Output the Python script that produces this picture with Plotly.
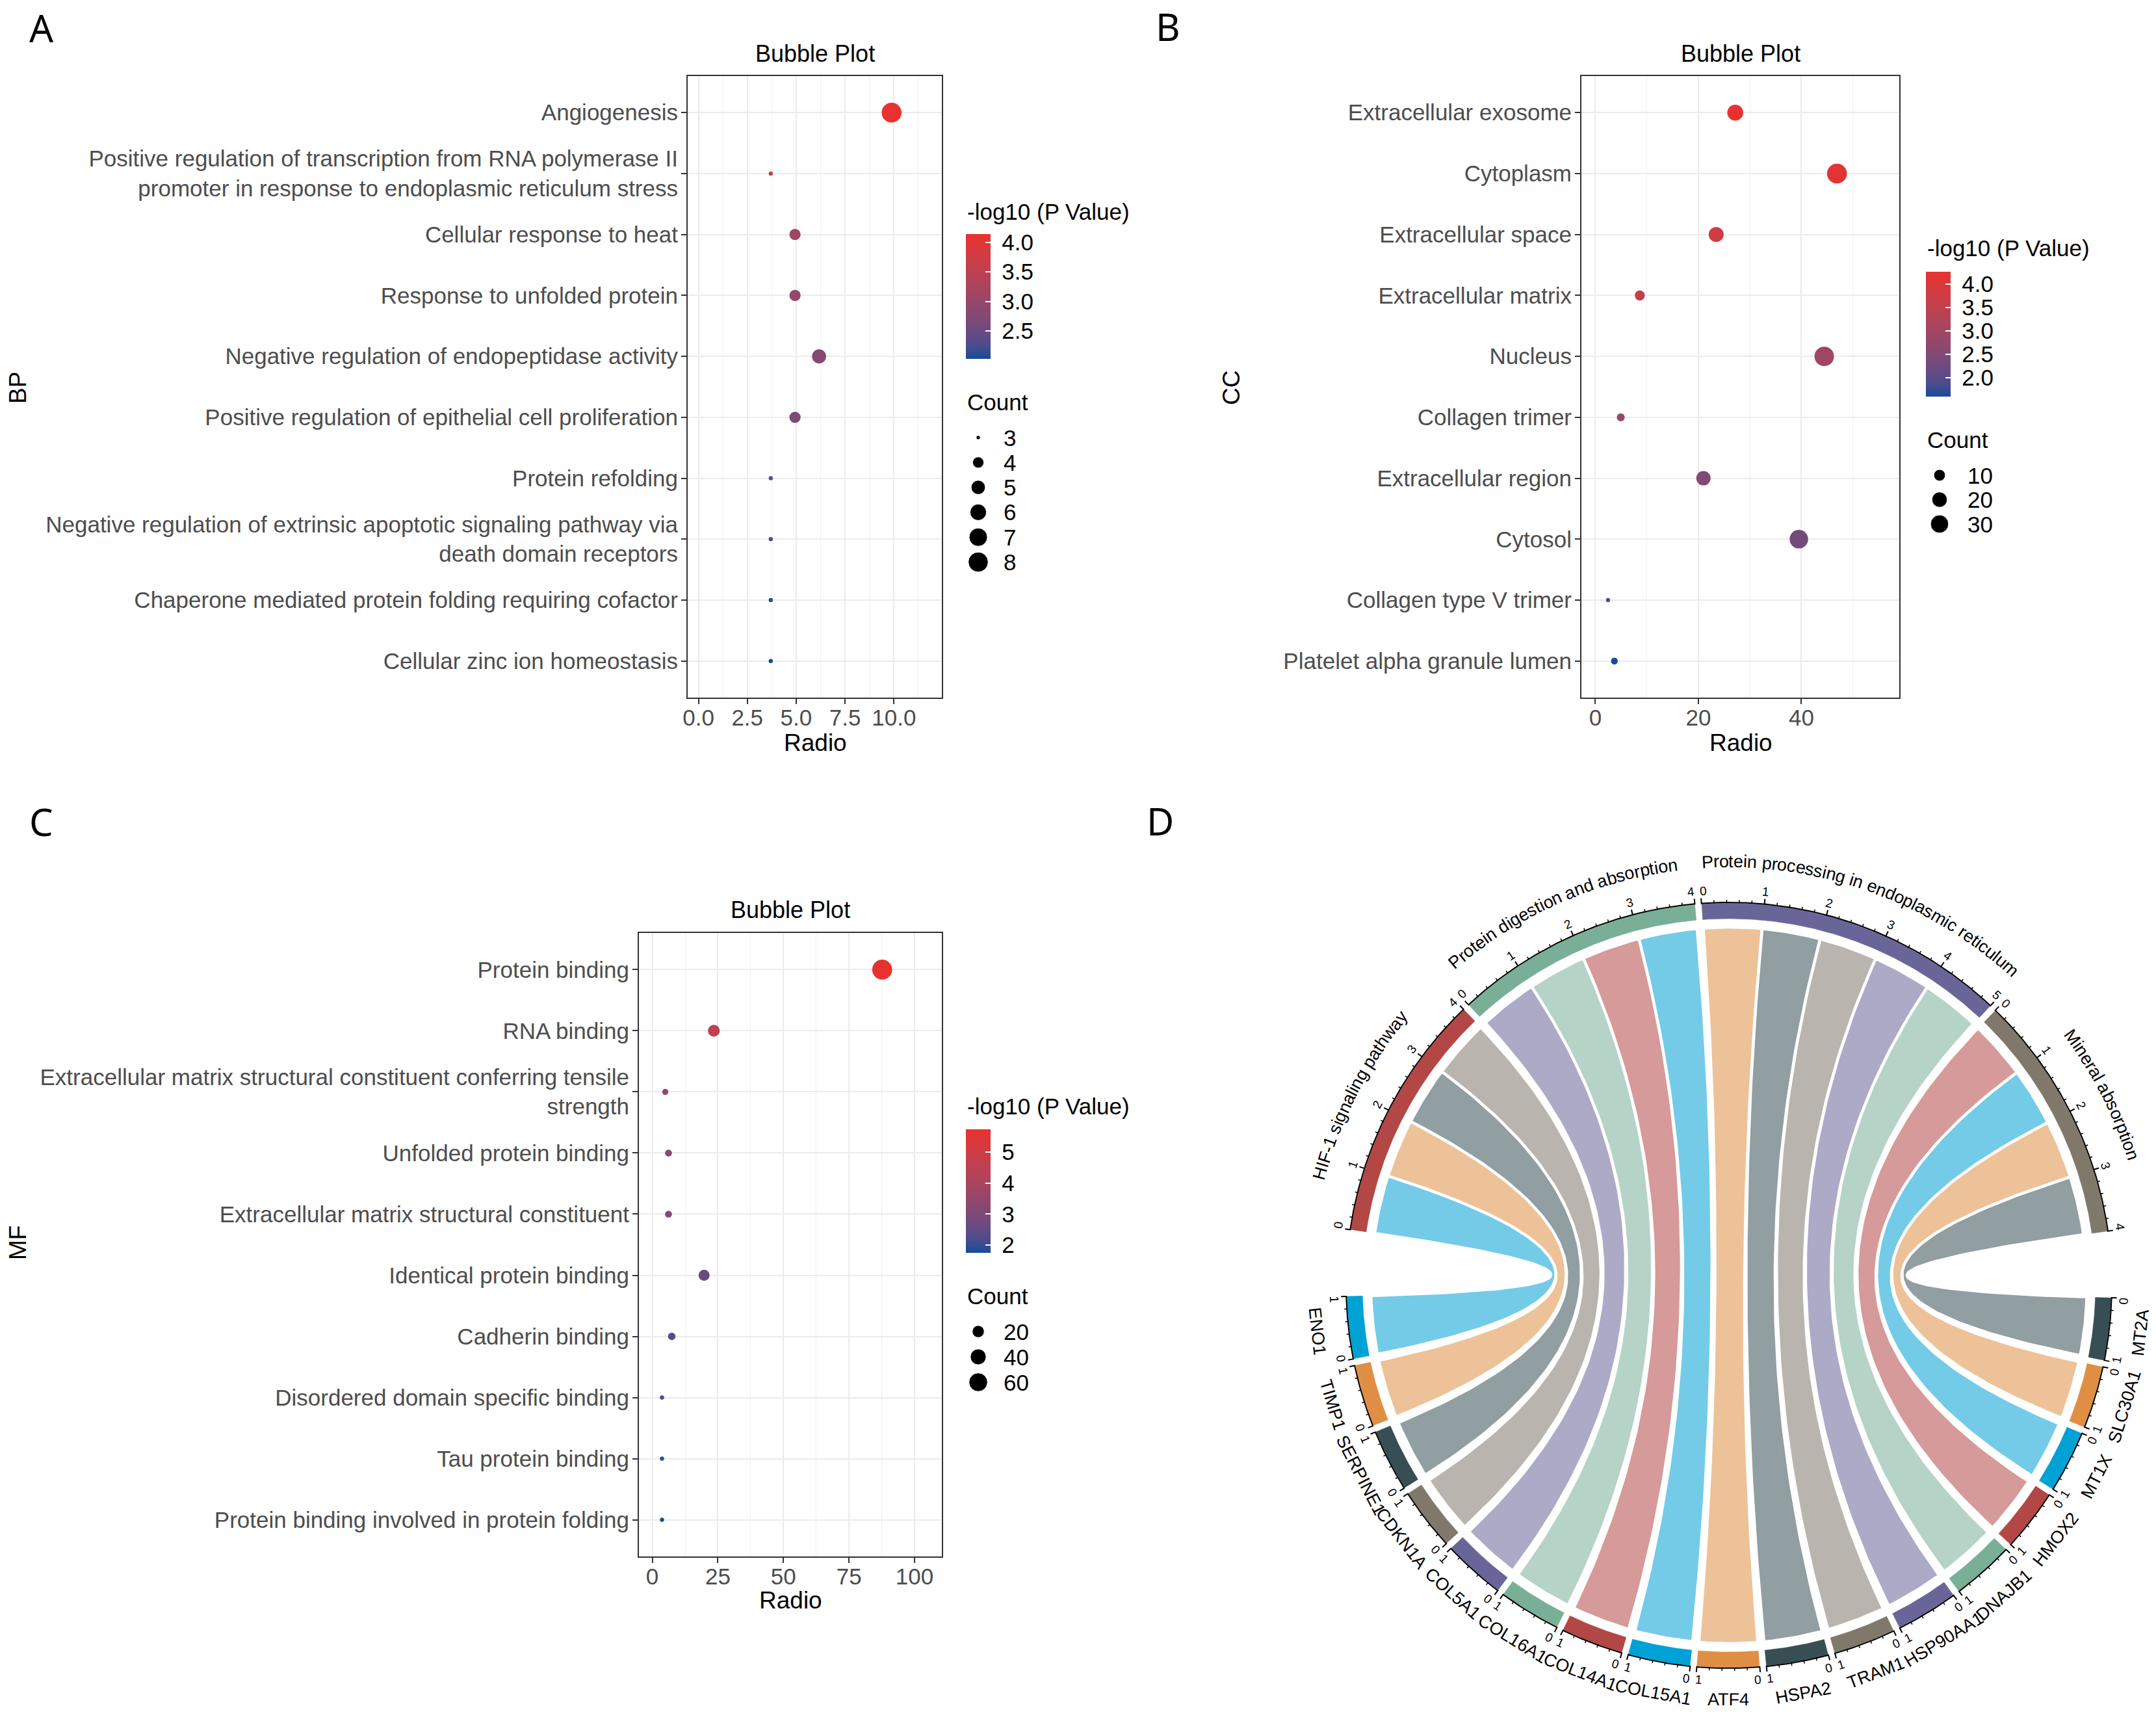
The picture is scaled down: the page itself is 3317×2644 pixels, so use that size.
import math
import plotly.graph_objects as go

W, H = 3317, 2644

# ---------------- data ----------------
bp_terms = ["Angiogenesis",
            "Positive regulation of transcription from RNA polymerase II<br>promoter in response to endoplasmic reticulum stress",
            "Cellular response to heat",
            "Response to unfolded protein",
            "Negative regulation of endopeptidase activity",
            "Positive regulation of epithelial cell proliferation",
            "Protein refolding",
            "Negative regulation of extrinsic apoptotic signaling pathway via<br>death domain receptors",
            "Chaperone mediated protein folding requiring cofactor",
            "Cellular zinc ion homeostasis"]
bp_radio = [9.88, 3.70, 4.94, 4.94, 6.17, 4.94, 3.70, 3.70, 3.70, 3.70]
bp_count = [8, 3, 4, 4, 5, 4, 3, 3, 3, 3]
bp_logp = [4.14, 3.40, 3.10, 3.00, 2.80, 2.70, 2.40, 2.30, 2.10, 2.03]

cc_terms = ["Extracellular exosome", "Cytoplasm", "Extracellular space", "Extracellular matrix",
            "Nucleus", "Collagen trimer", "Extracellular region", "Cytosol",
            "Collagen type V trimer", "Platelet alpha granule lumen"]
cc_radio = [27.16, 46.91, 23.46, 8.64, 44.44, 4.94, 20.99, 39.51, 2.47, 3.70]
cc_count = [22, 38, 19, 7, 36, 4, 17, 32, 2, 3]
cc_logp = [4.26, 4.15, 3.80, 3.60, 3.00, 2.80, 2.50, 2.30, 2.00, 1.59]

mf_terms = ["Protein binding", "RNA binding",
            "Extracellular matrix structural constituent conferring tensile<br>strength",
            "Unfolded protein binding", "Extracellular matrix structural constituent",
            "Identical protein binding", "Cadherin binding", "Disordered domain specific binding",
            "Tau protein binding", "Protein binding involved in protein folding"]
mf_radio = [87.65, 23.46, 4.94, 6.17, 6.17, 19.75, 7.41, 3.70, 3.70, 3.70]
mf_count = [71, 19, 4, 5, 5, 16, 6, 3, 3, 3]
mf_logp = [5.73, 4.60, 3.35, 3.20, 3.10, 2.60, 2.30, 2.10, 2.00, 1.75]

bp_xticks = [0, 2.5, 5, 7.5, 10]
cc_xticks = [0, 20, 40]
mf_xticks = [0, 25, 50, 75, 100]
bp_cbar_ticks = [2.5, 3.0, 3.5, 4.0]
cc_cbar_ticks = [2.0, 2.5, 3.0, 3.5, 4.0]
mf_cbar_ticks = [2, 3, 4, 5]
bp_size_legend = [3, 4, 5, 6, 7, 8]
cc_size_legend = [10, 20, 30]
mf_size_legend = [20, 40, 60]

pathways = ["HIF-1 signaling pathway", "Protein digestion and absorption",
            "Protein processing in endoplasmic reticulum", "Mineral absorption"]
pathway_genes = [["ENO1", "TIMP1", "SERPINE1", "CDKN1A"],
                 ["COL5A1", "COL16A1", "COL14A1", "COL15A1"],
                 ["ATF4", "HSPA2", "TRAM1", "HSP90AA1", "DNAJB1"],
                 ["HMOX2", "MT1X", "SLC30A1", "MT2A"]]

# ---------------- styles ----------------
FONT = "Liberation Sans, Arial, sans-serif"
jama = ["#374E55", "#DF8F44", "#00A1D5", "#B24745", "#79AF97", "#6A6599", "#80796B"]
LOW, HIGH = "#164C97", "#E8322F"
NB = "\u00a0"  # padding between colorbar and its labels


def _lin(c):
    c = c / 255.0
    return c / 12.92 if c <= 0.04045 else ((c + 0.055) / 1.055) ** 2.4


def _delin(c):
    v = 12.92 * c if c <= 0.0031308 else 1.055 * c ** (1 / 2.4) - 0.055
    return int(max(0, min(255, round(v * 255))))


def rgb2lab(h):
    r, g, b = [_lin(int(h[i:i + 2], 16)) for i in (1, 3, 5)]
    X = 0.4124 * r + 0.3576 * g + 0.1805 * b
    Y = 0.2126 * r + 0.7152 * g + 0.0722 * b
    Z = 0.0193 * r + 0.1192 * g + 0.9505 * b
    f = lambda t: t ** (1 / 3) if t > 0.008856 else 7.787 * t + 16 / 116
    fx, fy, fz = f(X / 0.95047), f(Y), f(Z / 1.08883)
    return 116 * fy - 16, 500 * (fx - fy), 200 * (fy - fz)


def lab2rgb(L, a, b):
    fy = (L + 16) / 116
    fx = fy + a / 500
    fz = fy - b / 200
    finv = lambda t: t ** 3 if t ** 3 > 0.008856 else (t - 16 / 116) / 7.787
    X, Y, Z = 0.95047 * finv(fx), finv(fy), 1.08883 * finv(fz)
    r = 3.2406 * X - 1.5372 * Y - 0.4986 * Z
    g = -0.9689 * X + 1.8758 * Y + 0.0415 * Z
    bb = 0.0557 * X - 0.2040 * Y + 1.0570 * Z
    return "#%02x%02x%02x" % (_delin(r), _delin(g), _delin(bb))


l0, l1 = rgb2lab(LOW), rgb2lab(HIGH)
colorscale = []
for k in range(11):
    t = k / 10
    colorscale.append([t, lab2rgb(*[l0[i] + (l1[i] - l0[i]) * t for i in range(3)])])


def dot_diam(c, cmin, cmax):
    s = 1 + 5 * math.sqrt((c - cmin) / (cmax - cmin))
    return 1.7 * (2.845 * s + 0.945)


def hexa(h, a):
    return "rgba(%d,%d,%d,%.2f)" % (int(h[1:3], 16), int(h[3:5], 16), int(h[5:7], 16), a)


fig = go.Figure()
annotations = []


def px_ann(x, y, text, size, color="black", xanchor="center", yanchor="middle", angle=0, family=FONT):
    annotations.append(dict(x=x, y=y, xref="x4", yref="y4", text=text, showarrow=False,
                            xanchor=xanchor, yanchor=yanchor, textangle=angle,
                            font=dict(size=size, color=color, family=family)))


# ---------------- bubble panels ----------------
panels = [
    dict(ax="", terms=bp_terms, radio=bp_radio, count=bp_count, logp=bp_logp,
         frame=(1058, 1449, 117, 1073), xr=[-0.55, 12.45], xt=bp_xticks, fmt=".1f", minor=1.25,
         cbt=bp_cbar_ticks, cbfmt=".1f", cb=(1486, 360, 192), title=(1254, 82), xtitle=(1254, 1142),
         ytitle=(27, 597, "BP"), legtitle=(1486, 325), cnt=(1486, 618), sz=bp_size_legend,
         szpos=(1505, 1542, 673, 38.3)),
    dict(ax="2", terms=cc_terms, radio=cc_radio, count=cc_count, logp=cc_logp,
         frame=(2433, 2922, 117, 1073), xr=[-2.7, 59.0], xt=cc_xticks, fmt="d", minor=10,
         cbt=cc_cbar_ticks, cbfmt=".1f", cb=(2963, 418, 192), title=(2678, 82), xtitle=(2678, 1142),
         ytitle=(1894, 597, "CC"), legtitle=(2963, 381), cnt=(2963, 676), sz=cc_size_legend,
         szpos=(2984, 3025, 731, 37.5)),
    dict(ax="3", terms=mf_terms, radio=mf_radio, count=mf_count, logp=mf_logp,
         frame=(983, 1449, 1435, 2394), xr=[-5.1, 110.4], xt=mf_xticks, fmt="d", minor=12.5,
         cbt=mf_cbar_ticks, cbfmt="d", cb=(1486, 1737, 190), title=(1216, 1399), xtitle=(1216, 2461),
         ytitle=(27, 1912, "MF"), legtitle=(1486, 1701), cnt=(1486, 1993), sz=mf_size_legend,
         szpos=(1505, 1542, 2048, 39)),
]

layout_axes = {}
for i, p in enumerate(panels):
    ax = p["ax"]
    cmin_c, cmax_c = min(p["count"]), max(p["count"])
    sizes = [dot_diam(c, cmin_c, cmax_c) for c in p["count"]]
    ca = "coloraxis" + ax
    fig.add_trace(go.Scatter(x=p["radio"], y=list(range(len(p["terms"]))), mode="markers",
                             marker=dict(size=sizes, color=p["logp"], coloraxis=ca, opacity=1,
                                         line=dict(width=0)),
                             xaxis="x" + ax, yaxis="y" + ax, showlegend=False, hoverinfo="skip"))
    x0, x1, y0, y1 = p["frame"]
    layout_axes["xaxis" + ax] = dict(
        domain=[x0 / W, x1 / W], anchor="y" + ax, range=p["xr"], tickmode="array",
        tickvals=p["xt"], ticktext=[format(v, ".1f") if p["fmt"] == ".1f" else str(int(v)) for v in p["xt"]],
        showgrid=True, gridcolor="#EBEBEB", gridwidth=2, zeroline=False,
        minor=dict(dtick=p["minor"], tick0=0, showgrid=True, gridcolor="#F0F0F0", gridwidth=1),
        showline=True, mirror=True, linecolor="#333333", linewidth=2,
        ticks="outside", ticklen=8, tickwidth=2, tickcolor="#333333", ticklabelstandoff=-9,
        tickfont=dict(size=35, color="#4D4D4D", family=FONT), automargin=False, fixedrange=True)
    layout_axes["yaxis" + ax] = dict(
        domain=[1 - y1 / H, 1 - y0 / H], anchor="x" + ax, range=[len(p["terms"]) - 0.4, -0.6],
        tickmode="array", tickvals=list(range(len(p["terms"]))), ticktext=p["terms"],
        showgrid=True, gridcolor="#EBEBEB", gridwidth=2, zeroline=False,
        showline=True, mirror=True, linecolor="#333333", linewidth=2,
        ticks="outside", ticklen=8, tickwidth=2, tickcolor="#333333", ticklabelstandoff=-2,
        tickfont=dict(size=35, color="#4D4D4D", family=FONT), automargin=False, fixedrange=True)
    cbx, cby, cblen = p["cb"]
    layout_axes[ca] = dict(
        colorscale=colorscale, cmin=min(p["logp"]), cmax=max(p["logp"]),
        colorbar=dict(x=cbx / W, xanchor="left", y=1 - cby / H, yanchor="top", len=cblen, lenmode="pixels",
                      thickness=38, thicknessmode="pixels", xpad=0, ypad=0, outlinewidth=0,
                      tickmode="array", tickvals=p["cbt"],
                      ticktext=[NB + (format(v, ".1f") if p["cbfmt"] == ".1f" else str(int(v))) for v in p["cbt"]],
                      ticks="inside", ticklen=8, tickwidth=2, tickcolor="white",
                      tickfont=dict(size=35, color="black", family=FONT)))
    # texts
    px_ann(p["title"][0], p["title"][1], "Bubble Plot", 36)
    px_ann(p["xtitle"][0], p["xtitle"][1], "Radio", 37)
    px_ann(p["ytitle"][0], p["ytitle"][1], p["ytitle"][2], 37, angle=-90)
    px_ann(p["legtitle"][0], p["legtitle"][1], "-log10 (P Value)", 35, xanchor="left")
    px_ann(p["cnt"][0], p["cnt"][1], "Count", 35, xanchor="left")
    dx, lx, ly0, dy = p["szpos"]
    ys = [ly0 + k * dy for k in range(len(p["sz"]))]
    fig.add_trace(go.Scatter(x=[dx] * len(p["sz"]), y=ys, mode="markers",
                             marker=dict(size=[dot_diam(c, cmin_c, cmax_c) for c in p["sz"]], color="black",
                                         opacity=1),
                             xaxis="x4", yaxis="y4", showlegend=False, hoverinfo="skip"))
    for c, yy in zip(p["sz"], ys):
        px_ann(lx, yy, str(c), 35, xanchor="left")

# panel letters
for lab, x, y in [("A", 63, 42), ("B", 1797, 40), ("C", 63, 1263), ("D", 1785, 1262)]:
    px_ann(x, y, lab, 58, family="Noto Sans, Open Sans, sans-serif")

# ---------------- chord diagram ----------------
cx, cy = 2660, 1977
R_OUT, R_IN, R_LINK = 588, 564, 551
BIG, SMALL = 10.0, 1.0
genes_cw = list(reversed([gname for lst in pathway_genes for gname in lst]))
sector_names = genes_cw + pathways
sector_vals = [1] * len(genes_cw) + [len(l) for l in pathway_genes]
unit = (360 - 2 * BIG - (len(sector_names) - 2) * SMALL) / sum(sector_vals)
starts, ends, colors = {}, {}, {}
theta = -1.85
for i, (n, v) in enumerate(zip(sector_names, sector_vals)):
    starts[n] = theta
    ends[n] = theta - v * unit
    colors[n] = jama[i % 7]
    theta = ends[n] - (BIG if i in (len(genes_cw) - 1, len(sector_names) - 1) else SMALL)


def pt(r, a):
    return cx + r * math.cos(math.radians(a)), cy - r * math.sin(math.radians(a))


def arc(r, a0, a1):
    n = max(8, int(abs(a1 - a0) * 3))
    return [pt(r, a0 + (a1 - a0) * k / n) for k in range(n + 1)]


def bez(p0, p2, n=90):
    out = []
    for k in range(n + 1):
        t = k / n
        out.append(((1 - t) ** 2 * p0[0] + 2 * t * (1 - t) * cx + t * t * p2[0],
                    (1 - t) ** 2 * p0[1] + 2 * t * (1 - t) * cy + t * t * p2[1]))
    return out


# links
for pname, glist in zip(pathways, pathway_genes):
    for j, gname in enumerate(glist):
        a_s = starts[pname] - j * unit
        a_e = a_s - unit
        b_s, b_e = starts[gname], ends[gname]
        pts = (arc(R_LINK, a_s, a_e) + bez(pt(R_LINK, a_e), pt(R_LINK, b_s)) +
               arc(R_LINK, b_s, b_e) + bez(pt(R_LINK, b_e), pt(R_LINK, a_s)))
        fig.add_trace(go.Scatter(x=[q[0] for q in pts], y=[q[1] for q in pts], mode="lines", fill="toself",
                                 fillcolor=hexa(colors[gname], 0.55), line=dict(color="white", width=4.5),
                                 xaxis="x4", yaxis="y4", showlegend=False, hoverinfo="skip"))

# sector bands
for n in sector_names:
    pts = arc(R_OUT, starts[n], ends[n]) + arc(R_IN, ends[n], starts[n])
    fig.add_trace(go.Scatter(x=[q[0] for q in pts], y=[q[1] for q in pts], mode="lines", fill="toself",
                             fillcolor=colors[n], line=dict(color=colors[n], width=0.5),
                             xaxis="x4", yaxis="y4", showlegend=False, hoverinfo="skip"))

# axes: arcs + ticks
axx, axy, mjx, mjy, mnx, mny = [], [], [], [], [], []
for n, v in zip(sector_names, sector_vals):
    for q in arc(R_OUT + 1, starts[n], ends[n]):
        axx.append(q[0]); axy.append(q[1])
    axx.append(None); axy.append(None)
    for k in range(v * 5 + 1):
        a = starts[n] - k / 5 * unit
        major = (k % 5 == 0)
        p0, p1 = pt(R_OUT, a), pt(R_OUT + (9 if major else 5), a)
        if major:
            mjx += [p0[0], p1[0], None]; mjy += [p0[1], p1[1], None]
        else:
            mnx += [p0[0], p1[0], None]; mny += [p0[1], p1[1], None]
    top = n in pathways
    for k in range(v + 1):
        a = starts[n] - k * unit
        if k == 0:
            a -= 0.4
        elif k == v:
            a += 0.4
        lp = pt(608, a)
        ang = (90 - a) if top else (-90 - a)
        ang = (ang + 180) % 360 - 180
        px_ann(lp[0], lp[1], str(k), 19, angle=ang)
fig.add_trace(go.Scatter(x=axx, y=axy, mode="lines", line=dict(color="black", width=2),
                         xaxis="x4", yaxis="y4", showlegend=False, hoverinfo="skip"))
fig.add_trace(go.Scatter(x=mjx, y=mjy, mode="lines", line=dict(color="black", width=2),
                         xaxis="x4", yaxis="y4", showlegend=False, hoverinfo="skip"))
fig.add_trace(go.Scatter(x=mnx, y=mny, mode="lines", line=dict(color="black", width=1.5),
                         xaxis="x4", yaxis="y4", showlegend=False, hoverinfo="skip"))

# labels
AW = {"H": 722, "I": 278, "F": 611, "-": 333, "1": 556, " ": 278, "s": 500, "i": 222, "g": 556,
      "n": 556, "a": 556, "l": 222, "p": 556, "t": 278, "h": 556, "w": 722, "y": 500, "P": 667,
      "r": 333, "o": 556, "e": 556, "d": 556, "b": 556, "c": 500, "m": 833, "u": 556, "M": 833}
LAB_SIZE = 27
R_TEXT = 652
for pname in pathways:
    amid = (starts[pname] + ends[pname]) / 2
    widths = [AW.get(ch, 556) / 1000 * LAB_SIZE for ch in pname]
    L = sum(widths)
    s = 0
    for ch, w in zip(pname, widths):
        sc = s + w / 2
        a = amid + math.degrees((L / 2 - sc) / R_TEXT)
        if ch != " ":
            q = pt(R_TEXT, a)
            px_ann(q[0], q[1], ch, LAB_SIZE, angle=90 - a)
        s += w
for gname in genes_cw:
    amid = (starts[gname] + ends[gname]) / 2
    q = pt(637, amid)
    ang = (-90 - amid + 180) % 360 - 180
    px_ann(q[0], q[1], gname, 27, angle=ang)

layout_axes["xaxis4"] = dict(domain=[0, 1], range=[0, W], visible=False, fixedrange=True, anchor="y4")
layout_axes["yaxis4"] = dict(domain=[0, 1], range=[H, 0], visible=False, fixedrange=True, anchor="x4")

fig.update_layout(width=W, height=H, margin=dict(l=0, r=0, t=0, b=0, pad=0),
                  paper_bgcolor="white", plot_bgcolor="rgba(0,0,0,0)", showlegend=False,
                  font=dict(family=FONT), annotations=annotations, **layout_axes)
fig.write_html("out.html", config={"displayModeBar": False},
               post_script="document.body.style.margin='0px';")
